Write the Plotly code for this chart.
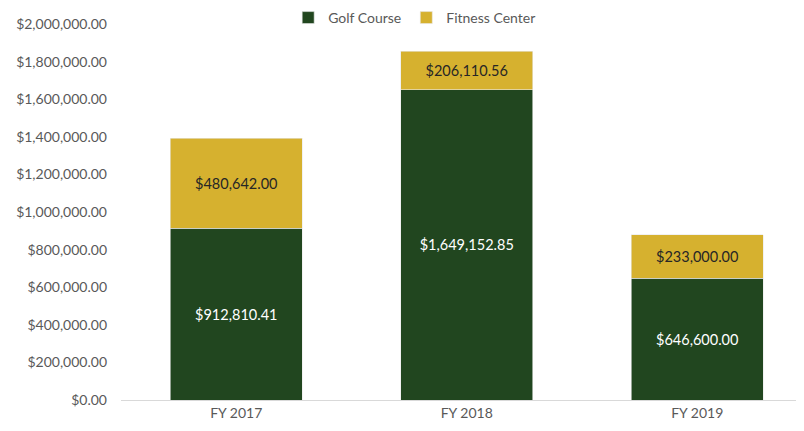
import plotly.graph_objects as go

categories = ["FY 2017", "FY 2018", "FY 2019"]
golf_course = [912810.41, 1649152.85, 646600.00]
fitness_center = [480642.00, 206110.56, 233000.00]
y_ticks = [0, 200000, 400000, 600000, 800000, 1000000, 1200000, 1400000, 1600000, 1800000, 2000000]

GREEN = "#21461f"
GOLD = "#d6b12f"
FONT = "Lato, 'Open Sans', sans-serif"

fig = go.Figure()
fig.add_trace(go.Bar(
    name="Golf Course", x=categories, y=golf_course,
    marker=dict(color=GREEN, line=dict(color="#e8e8e8", width=0.6)),
    texttemplate="$%{y:,.2f}", textposition="inside", insidetextanchor="middle",
    textfont=dict(color="white", size=14.5, family=FONT),
    hoverinfo="skip",
))
fig.add_trace(go.Bar(
    name="Fitness Center", x=categories, y=fitness_center,
    marker=dict(color=GOLD, line=dict(color="#e8e8e8", width=0.6)),
    texttemplate="$%{y:,.2f}", textposition="inside", insidetextanchor="middle",
    textfont=dict(color="#262626", size=14.5, family=FONT),
    hoverinfo="skip",
))

fig.update_layout(
    barmode="stack",
    bargap=0.427,
    width=804, height=431,
    margin=dict(l=113, r=0, t=16, b=39, autoexpand=False),
    plot_bgcolor="white", paper_bgcolor="white",
    font=dict(family=FONT, color="#595959", size=14),
    uniformtext=dict(mode="show", minsize=8),
    legend=dict(
        orientation="h", xref="paper", yref="paper",
        x=0.425, y=1.016, xanchor="center", yanchor="middle",
        font=dict(size=14, color="#595959", family=FONT),
        itemwidth=30, traceorder="normal",
    ),
    xaxis=dict(
        range=[-0.5, 2.498], showgrid=False, automargin=False,
        showline=True, linecolor="#d9d9d9", linewidth=1,
        ticks="", tickfont=dict(size=14, color="#595959"),
    ),
    yaxis=dict(
        range=[0, 2000000], tickvals=y_ticks, tickformat="$,.2f",
        showgrid=False, zeroline=False, showline=False, automargin=False,
        ticks="", ticklabelstandoff=13,
        tickfont=dict(size=14, color="#595959"),
    ),
)

fig.write_html("out.html")
